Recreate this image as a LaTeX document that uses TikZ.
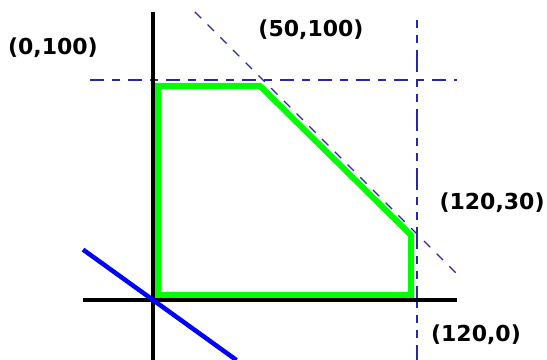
\documentclass[tikz,border=0pt]{standalone}
\usepackage{fontspec}
\setsansfont{DejaVu Sans}
\usetikzlibrary{positioning}
\definecolor{guidenavy}{RGB}{40,40,160}
\tikzset{
  axis/.style={line width=3.5pt, black},
  guide/.style={line width=1.5pt, guidenavy},
  region/.style={line width=6pt, green, line join=miter},
  objective/.style={line width=4.5pt, blue},
  vertex label/.style={font=\sffamily\bfseries\fontsize{22}{24}\selectfont, inner sep=0pt},
}

\begin{document}
\begin{tikzpicture}[x=2.2pt, y=2.2pt]
  \useasboundingbox (-69.55,-27.27) rectangle (179.09,136.36);

  % Constraint lines (dashed)
  \draw[guide, dash pattern={on 14pt off 8pt on 8pt off 8pt}] (-28.6,100) -- (138.2,100);
  \draw[guide, dash pattern={on 8pt off 7pt on 8pt off 7pt on 22pt off 7pt}] (120,127.3) -- (120,-27.3);
  \draw[guide, line width=1.1pt, dash pattern={on 9pt off 9pt}] (19,131) -- (138.2,11.8);

  % Axes
  \draw[axis] (-31.8,0) -- (138.2,0);
  \draw[axis] (0,-27.3) -- (0,130.9);

  % Objective line through the origin
  \draw[objective] (-31.8,22.9) -- (37.9,-27.3);

  % Feasible region
  \draw[region] (2.3,2.3) -- (2.3,97.3) -- (48.6,97.3) -- (117.3,29.5) -- (117.3,2.3) -- cycle;

  % Corner labels
  \node[vertex label] (top left) at (-45.5,114.5) {(0,100)};
  \node[vertex label] (top corner) at (71.8,122.7) {(50,100)};
  \node[vertex label] (right corner) at (154.1,44.1) {(120,30)};
  \node[vertex label] (bottom corner) at (146.8,-15.9) {(120,0)};

\end{tikzpicture}
\end{document}
